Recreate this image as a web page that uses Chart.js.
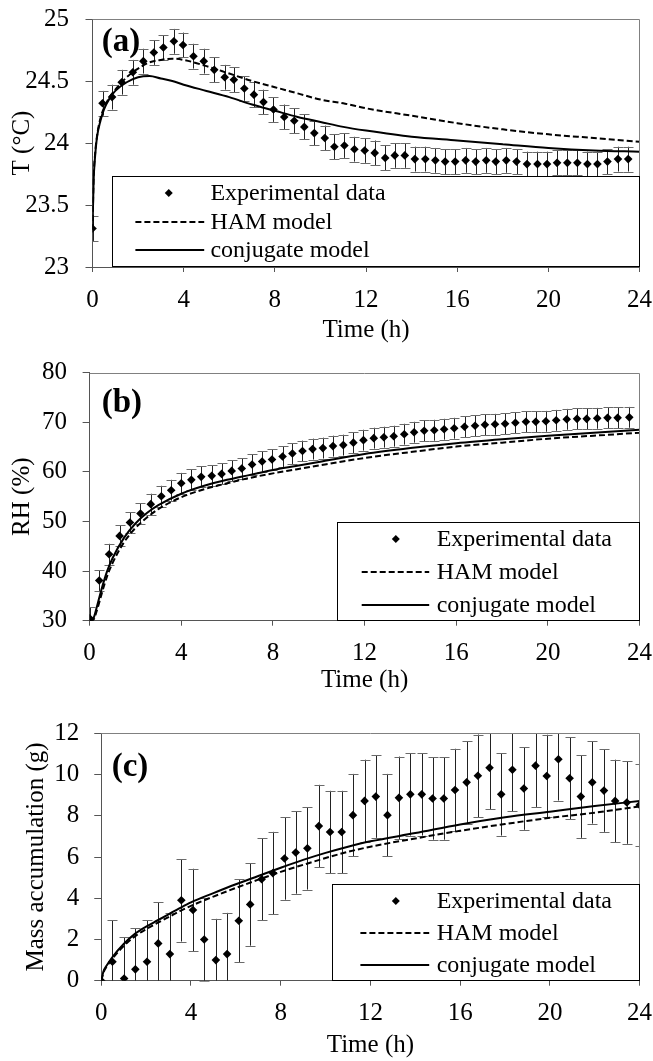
<!DOCTYPE html>
<html><head><meta charset="utf-8">
<script src="https://cdn.jsdelivr.net/npm/chart.js@4.4.1/dist/chart.umd.min.js"></script>
<style>
html,body{margin:0;padding:0;background:#fff;width:653px;height:1061px;overflow:hidden}
canvas{position:absolute;left:0}
</style></head><body>
<canvas id="ca" width="653" height="350" style="top:0px"></canvas>
<canvas id="cb" width="653" height="355" style="top:350px"></canvas>
<canvas id="cc" width="653" height="356" style="top:705px"></canvas>
<script>
// ---------- data ----------
const xTicks = [0, 4, 8, 12, 16, 20, 24];
const xTickLabels = ['0', '4', '8', '12', '16', '20', '24'];

// (a) temperature
const tempTicks = [23, 23.5, 24, 24.5, 25];
const tempTickLabels = ['23', '23.5', '24', '24.5', '25'];
const timeT = [0,0.44,0.86,1.28,1.77,2.23,2.69,3.11,3.57,3.97,4.43,4.88,5.34,5.80,6.20,6.66,7.08,7.50,7.94,8.41,8.85,9.29,9.73,10.19,10.61,11.05,11.49,11.94,12.38,12.84,13.26,13.70,14.14,14.60,15.04,15.47,15.91,16.37,16.81,17.27,17.69,18.15,18.60,19.06,19.52,19.94,20.38,20.83,21.27,21.71,22.15,22.59,23.05,23.50];
const tempExp = [23.31,24.32,24.37,24.49,24.57,24.66,24.73,24.77,24.82,24.79,24.70,24.66,24.59,24.53,24.51,24.44,24.39,24.33,24.27,24.21,24.18,24.13,24.08,24.04,23.97,23.98,23.95,23.94,23.92,23.88,23.90,23.90,23.87,23.87,23.86,23.85,23.85,23.86,23.85,23.86,23.85,23.86,23.85,23.83,23.83,23.83,23.84,23.84,23.84,23.83,23.83,23.85,23.87,23.87];
const tempErr = [0.1,0.1,0.1,0.1,0.1,0.1,0.1,0.1,0.1,0.1,0.1,0.1,0.1,0.1,0.1,0.1,0.1,0.1,0.1,0.1,0.1,0.1,0.1,0.1,0.1,0.1,0.1,0.1,0.1,0.1,0.1,0.1,0.1,0.1,0.1,0.1,0.1,0.1,0.1,0.1,0.1,0.1,0.1,0.1,0.1,0.1,0.1,0.1,0.1,0.1,0.1,0.1,0.1,0.1];
const modelTimeT = [0,0.05,0.1,0.2,0.35,0.5,0.75,1,1.5,2,2.5,3,3.5,4,5,6,7,8,9,10,11,12,14,16,18,20,22,24];
const tempHAM  = [23.30,23.72,23.88,24.06,24.20,24.28,24.37,24.43,24.53,24.60,24.65,24.67,24.68,24.67,24.62,24.56,24.50,24.45,24.40,24.35,24.32,24.28,24.22,24.16,24.11,24.07,24.04,24.01];
const tempConj = [23.30,23.70,23.86,24.05,24.18,24.27,24.36,24.42,24.49,24.53,24.54,24.52,24.50,24.47,24.42,24.37,24.31,24.26,24.21,24.17,24.13,24.10,24.05,24.02,23.99,23.96,23.94,23.93];

// (b) relative humidity
const rhTicks = [30, 40, 50, 60, 70, 80];
const rhTickLabels = ['30', '40', '50', '60', '70', '80'];
const timeRH = [0,0.42,0.85,1.31,1.76,2.22,2.67,3.13,3.56,4.00,4.44,4.87,5.33,5.76,6.20,6.64,7.09,7.53,7.96,8.42,8.85,9.29,9.73,10.18,10.62,11.07,11.51,11.95,12.40,12.84,13.27,13.73,14.16,14.60,15.04,15.47,15.91,16.36,16.82,17.25,17.69,18.13,18.58,19.04,19.47,19.91,20.36,20.82,21.27,21.69,22.15,22.60,23.04,23.55];
const rhExp = [30.5,38.1,43.4,47.1,49.8,51.6,53.5,55.1,56.3,57.7,58.4,59.0,59.2,59.6,60.2,60.7,61.5,62.1,62.5,63.1,63.7,64.2,64.6,64.8,65.2,65.4,65.9,66.4,66.8,67.0,67.2,67.6,68.0,68.3,68.4,68.6,68.8,69.1,69.3,69.5,69.6,69.7,69.9,70.1,70.1,70.2,70.4,70.6,70.7,70.7,70.8,70.9,70.9,71.0];
const rhErr = [2.2,2.1,2.1,2.1,2.1,2.1,2.1,2.1,2.1,2.1,2.1,2.1,2.1,2.1,2.1,2.1,2.1,2.1,2.1,2.1,2.1,2.1,2.1,2.1,2.1,2.1,2.1,2.1,2.1,2.1,2.1,2.1,2.1,2.1,2.1,2.1,2.1,2.1,2.1,2.1,2.1,2.1,2.1,2.1,2.1,2.1,2.1,2.1,2.1,2.1,2.1,2.1,2.1,2.1];
const modelTimeRH = [0,0.15,0.3,0.5,0.75,1,1.5,2,2.5,3,4,5,6,7,8,9,10,12,14,16,18,20,22,24];
const rhHAM  = [30.0,30.1,31.8,35.0,38.8,41.6,45.8,48.7,50.8,52.5,54.9,56.5,57.7,58.8,59.7,60.5,61.3,62.8,64.0,65.1,65.9,66.7,67.3,67.9];
const rhConj = [30.0,30.3,32.5,36.0,39.8,42.6,46.7,49.6,51.7,53.3,55.6,57.2,58.4,59.4,60.4,61.2,62.0,63.6,64.8,65.8,66.6,67.3,67.9,68.5];

// (c) mass accumulation
const massTicks = [0, 2, 4, 6, 8, 10, 12];
const massTickLabels = ['0', '2', '4', '6', '8', '10', '12'];
const timeM = [0,0.50,1.02,1.52,2.04,2.54,3.06,3.57,4.09,4.59,5.11,5.61,6.13,6.64,7.15,7.65,8.17,8.67,9.19,9.70,10.20,10.72,11.22,11.74,12.24,12.76,13.27,13.78,14.29,14.77,15.27,15.77,16.29,16.79,17.31,17.83,18.33,18.84,19.36,19.86,20.38,20.88,21.38,21.89,22.41,22.91,23.43,24.0];
const massExp = [0.0,0.92,0.11,0.55,0.92,1.81,1.29,3.9,3.43,2.0,1.0,1.29,2.91,3.70,4.92,5.22,5.93,6.22,6.42,7.50,7.21,7.21,8.03,8.72,8.93,8.03,8.87,9.04,9.04,8.84,8.84,9.25,9.62,9.94,10.33,9.04,10.23,9.32,10.43,9.93,10.74,9.82,8.93,9.62,9.22,8.72,8.64,8.52];
const massErr = [0,2,2,2,2,2,2,2,2,2,2,2,2,2,2,2,2,2,2,2,2,2,2,2,2,2,2,2,2,2,2,2,2,2,2,2,2,2,2,2,2,2,2,2,2,2,2,2];
const modelTimeM = [0,0.1,0.25,0.5,1,1.5,2,2.5,3,3.5,4,5,6,7,8,9,10,11,12,14,16,18,20,22,24];
const massHAM  = [0,0.40,0.70,1.08,1.68,2.15,2.50,2.80,3.08,3.37,3.63,4.08,4.50,4.90,5.28,5.62,5.95,6.25,6.50,6.90,7.27,7.60,7.90,8.15,8.45];
const massConj = [0,0.45,0.75,1.15,1.78,2.27,2.62,2.92,3.22,3.52,3.80,4.25,4.68,5.08,5.48,5.86,6.20,6.50,6.76,7.16,7.58,7.93,8.20,8.47,8.72];

const legendLabels = ['Experimental data', 'HAM model', 'conjugate model'];

// ---------- drawing ----------
const FAM = "'Liberation Serif','Times New Roman',serif";
Chart.defaults.font.family = FAM;
Chart.defaults.color = '#000';

function pts(xs, ys){ return xs.map((t,i)=>({x:t, y:ys[i]})); }

function makeChart(spec){
  const W = 653, H = spec.H;
  const plugin = {
    id: 'extras',
    beforeDatasetsDraw(chart){
      const {ctx, chartArea:a, scales:{x, y}} = chart;
      ctx.save();
      ctx.beginPath(); ctx.rect(a.left, a.top - 1, a.right - a.left, a.bottom - a.top + 2); ctx.clip();
      ctx.lineWidth = 1;
      spec.time.forEach((t,i)=>{
        const v = spec.exp[i], e = spec.err[i];
        if (!e) return;
        const px = Math.round(x.getPixelForValue(t)) + 0.5;
        const hi = v + e, lo = v - e;
        const yHi = y.getPixelForValue(Math.min(hi, y.max));
        const yLo = y.getPixelForValue(Math.max(lo, y.min));
        ctx.strokeStyle = '#222';
        ctx.beginPath(); ctx.moveTo(px, yHi); ctx.lineTo(px, yLo); ctx.stroke();
        ctx.strokeStyle = '#6a6a6a';
        if (hi <= y.max) { const yy = Math.round(yHi) + 0.5; ctx.beginPath(); ctx.moveTo(px - 5, yy); ctx.lineTo(px + 5, yy); ctx.stroke(); }
        if (lo >= y.min) { const yy = Math.round(yLo) + 0.5; ctx.beginPath(); ctx.moveTo(px - 5, yy); ctx.lineTo(px + 5, yy); ctx.stroke(); }
      });
      ctx.restore();
    },
    afterDraw(chart){
      const {ctx, chartArea:a} = chart;
      ctx.save();
      // top & right frame
      ctx.strokeStyle = '#808080'; ctx.lineWidth = 1;
      ctx.beginPath();
      ctx.moveTo(a.left, Math.round(a.top) + 0.5);
      ctx.lineTo(Math.round(a.right) - 0.5, Math.round(a.top) + 0.5);
      ctx.lineTo(Math.round(a.right) - 0.5, a.bottom);
      ctx.stroke();
      // legend
      const L = spec.legend;
      const bx0 = Math.round(L.x0) + 0.5, by0 = Math.round(L.y0) + 0.5;
      const bx1 = Math.round(a.right) - 0.5, by1 = Math.round(a.bottom) - 0.5;
      ctx.fillStyle = '#fff';
      ctx.fillRect(bx0, by0, bx1 - bx0, by1 - by0);
      ctx.strokeStyle = '#000';
      ctx.strokeRect(bx0, by0, bx1 - bx0, by1 - by0);
      ctx.font = L.font + 'px ' + FAM;
      ctx.textBaseline = 'middle'; ctx.textAlign = 'left'; ctx.fillStyle = '#000';
      legendLabels.forEach((lab, i)=>{
        const yy = L.rows[i];
        if (i === 0) {
          const r = 4, cx = L.mx;
          ctx.beginPath(); ctx.moveTo(cx, yy - r); ctx.lineTo(cx + r, yy); ctx.lineTo(cx, yy + r); ctx.lineTo(cx - r, yy); ctx.closePath(); ctx.fill();
        } else {
          ctx.strokeStyle = '#000'; ctx.lineWidth = 2;
          ctx.setLineDash(i === 1 ? [6, 3] : []);
          ctx.beginPath(); ctx.moveTo(L.lx0, yy); ctx.lineTo(L.lx1, yy); ctx.stroke();
          ctx.setLineDash([]);
        }
        ctx.fillText(lab, L.tx, yy + 1);
      });
      // panel label
      ctx.font = 'bold 33px ' + FAM;
      ctx.textBaseline = 'alphabetic';
      ctx.fillText(spec.panel, spec.px, spec.py);
      ctx.restore();
    }
  };
  const tickFont = {size: 25, family: FAM};
  return new Chart(document.getElementById(spec.id), {
    type: 'scatter',
    data: {
      datasets: [
        {label: legendLabels[0], data: pts(spec.time, spec.exp), showLine: false,
         pointStyle: 'rectRot', pointRadius: 4.3, backgroundColor: '#000', borderColor: '#000', borderWidth: 0},
        {label: legendLabels[1], data: pts(spec.mt, spec.ham), showLine: true, type: 'line',
         borderColor: '#000', borderWidth: 2, borderDash: [6, 3], pointRadius: 0, fill: false, cubicInterpolationMode: 'monotone'},
        {label: legendLabels[2], data: pts(spec.mt, spec.conj), showLine: true, type: 'line',
         borderColor: '#000', borderWidth: 2, pointRadius: 0, fill: false, cubicInterpolationMode: 'monotone'}
      ]
    },
    options: {
      responsive: false, animation: false, events: [],
      layout: {padding: {top: spec.area.top, right: W - spec.area.right, left: 0, bottom: 0}},
      plugins: {legend: {display: false}, tooltip: {enabled: false}},
      scales: {
        x: {
          type: 'linear', position: 'bottom', min: 0, max: 24,
          afterBuildTicks: s => { s.ticks = xTicks.map(v => ({value: v})); },
          ticks: {font: tickFont, color: '#000', padding: spec.xPad, maxRotation: 0, autoSkip: false,
                  callback: (v) => xTickLabels[xTicks.indexOf(v)]},
          grid: {display: true, drawOnChartArea: false, drawTicks: true, tickLength: 5, color: '#555'},
          border: {display: true, color: '#555', width: 1},
          title: {display: true, text: 'Time (h)', font: tickFont, color: '#000', padding: {top: 0, bottom: spec.xTitlePad}},
          afterFit: s => { s.height = H - spec.area.bottom; s.paddingLeft = 0; s.paddingRight = 0; }
        },
        y: {
          type: 'linear', position: 'left', min: spec.yTicks[0], max: spec.yTicks[spec.yTicks.length - 1],
          afterBuildTicks: s => { s.ticks = spec.yTicks.map(v => ({value: v})); },
          ticks: {font: tickFont, color: '#000', padding: spec.yPad, autoSkip: false,
                  callback: (v) => spec.yLabels[spec.yTicks.indexOf(v)]},
          grid: {display: true, drawOnChartArea: false, drawTicks: true, tickLength: 7, color: '#555'},
          border: {display: true, color: '#555', width: 1},
          title: {display: true, text: spec.yTitle, font: tickFont, color: '#000', padding: {top: spec.yTitlePad, bottom: 0}},
          afterFit: s => { s.width = spec.area.left; s.paddingTop = 0; s.paddingBottom = 0; }
        }
      }
    },
    plugins: [plugin]
  });
}

makeChart({
  id: 'ca', H: 350, area: {left: 92.5, right: 639.6, top: 19, bottom: 267},
  time: timeT, exp: tempExp, err: tempErr, mt: modelTimeT, ham: tempHAM, conj: tempConj,
  yTicks: tempTicks, yLabels: tempTickLabels, yTitle: 'T (°C)', xPad: 13, xTitlePad: 5, yPad: 16.5, yTitlePad: 7,
  legend: {x0: 111.7, y0: 176, rows: [193, 222, 250], mx: 168.75, lx0: 135.4, lx1: 204.2, tx: 210.4, font: 24},
  panel: '(a)', px: 101.7, py: 51
});
makeChart({
  id: 'cb', H: 355, area: {left: 89.6, right: 639.6, top: 22.7, bottom: 270.7},
  time: timeRH, exp: rhExp, err: rhErr, mt: modelTimeRH, ham: rhHAM, conj: rhConj,
  yTicks: rhTicks, yLabels: rhTickLabels, yTitle: 'RH (%)', xPad: 12.3, xTitlePad: 10, yPad: 15.6, yTitlePad: 7,
  legend: {x0: 336.7, y0: 172, rows: [189, 222, 255], mx: 395.8, lx0: 361.7, lx1: 429.2, tx: 436.7, font: 24},
  panel: '(b)', px: 101.7, py: 62.4
});
makeChart({
  id: 'cc', H: 356, area: {left: 101.25, right: 639.6, top: 28.3, bottom: 275.7},
  time: timeM, exp: massExp, err: massErr, mt: modelTimeM, ham: massHAM, conj: massConj,
  yTicks: massTicks, yLabels: massTickLabels, yTitle: 'Mass accumulation (g)', xPad: 12.3, xTitlePad: 1, yPad: 15, yTitlePad: 21.5,
  legend: {x0: 332, y0: 179.3, rows: [196, 228, 260], mx: 395.8, lx0: 360.4, lx1: 429.2, tx: 436.7, font: 24},
  panel: '(c)', px: 111.7, py: 70.8
});
</script>
</body></html>
